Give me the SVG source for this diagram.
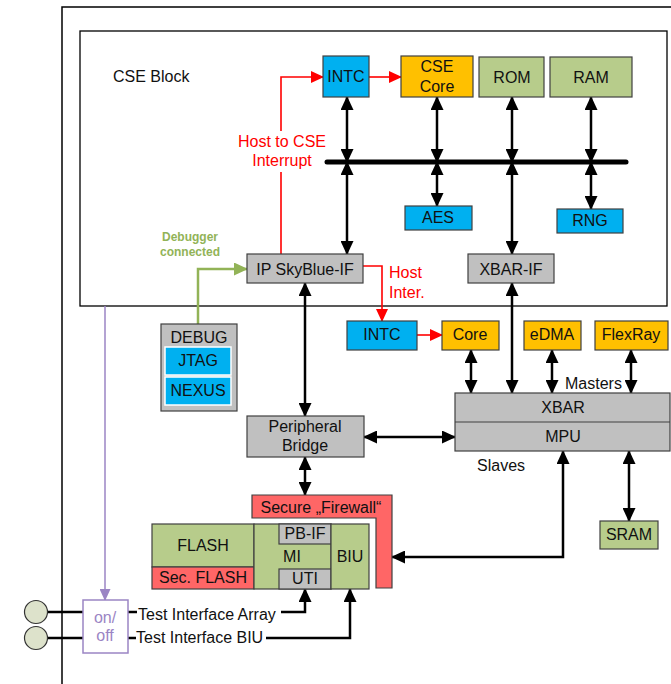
<svg xmlns="http://www.w3.org/2000/svg" width="671" height="684" viewBox="0 0 671 684">
<defs>
<style>
text{font-family:"Liberation Sans",Arial,sans-serif;font-size:16px;fill:#111}
.c{text-anchor:middle}
.box{stroke:#404040;stroke-width:1.2}
.blue{fill:#00B0F0}.org{fill:#FFC000}.grn{fill:#B7CC8B}.gry{fill:#C0C0C0}.red{fill:#FF6666}
.bl{fill:none;stroke:#000;stroke-width:2.5}
.dbl{marker-start:url(#ab);marker-end:url(#ab)}
.one{marker-end:url(#ab)}
.rl{fill:none;stroke:#FF0000;stroke-width:1.6;marker-end:url(#ar)}
.rt{fill:#FF0000}
</style>
<marker id="ab" markerUnits="userSpaceOnUse" viewBox="0 0 14 13" markerWidth="14" markerHeight="13" refX="13" refY="6.5" orient="auto-start-reverse"><path d="M0,0L14,6.5L0,13z" fill="#000"/></marker>
<marker id="ar" markerUnits="userSpaceOnUse" viewBox="0 0 13 12" markerWidth="13" markerHeight="12" refX="12" refY="6" orient="auto"><path d="M0,0L13,6L0,12z" fill="#FF0000"/></marker>
<marker id="ag" markerUnits="userSpaceOnUse" viewBox="0 0 14 13" markerWidth="14" markerHeight="13" refX="13" refY="6.5" orient="auto"><path d="M0,0L14,6.5L0,13z" fill="#92B357"/></marker>
<marker id="ap" markerUnits="userSpaceOnUse" viewBox="0 0 12 11" markerWidth="12" markerHeight="11" refX="11" refY="5.5" orient="auto"><path d="M0,0L12,5.5L0,11z" fill="#9B85C4"/></marker>
</defs>
<rect width="671" height="684" fill="#fff"/>
<path d="M62,684V7H671" fill="none" stroke="#000" stroke-width="1.5"/>
<g id="cse-block"><rect x="80" y="31" width="587" height="275" fill="#fff" stroke="#000" stroke-width="1.3"/><text x="113" y="82">CSE Block</text></g>

<g id="connectors">
<line x1="327" y1="162" x2="626" y2="162" stroke="#000" stroke-width="5" stroke-linecap="round"/>
<path class="bl dbl" d="M347,97V162"/>
<path class="bl dbl" d="M437,97V162"/>
<path class="bl dbl" d="M512,97V162"/>
<path class="bl dbl" d="M591,97V162"/>
<path class="bl dbl" d="M347,162V254"/>
<path class="bl dbl" d="M437,162V206"/>
<path class="bl dbl" d="M512,162V254"/>
<path class="bl dbl" d="M591,162V209"/>
<path class="bl dbl" d="M512,283V393"/>
<path class="bl dbl" d="M305,283V416"/>
<path class="bl dbl" d="M305,457V495"/>
<path class="bl dbl" d="M364,437H455"/>
<path class="bl dbl" d="M471,350V393"/>
<path class="bl dbl" d="M552,350V393"/>
<path class="bl dbl" d="M631,350V393"/>
<path class="bl dbl" d="M629,451V521"/>
<path class="bl dbl" d="M563,451V557H392"/>
<path class="rl" d="M281,254V172M281,131V77H323"/>
<path class="rl" d="M369,77H401"/>
<path class="rl" d="M363,266H382V321"/>
<path class="rl" d="M417,335H442"/>
<path d="M198,324V269H247" fill="none" stroke="#92B357" stroke-width="2.5" marker-end="url(#ag)"/>
<path d="M105,306V600" fill="none" stroke="#9B85C4" stroke-width="1.5" marker-end="url(#ap)"/>
<path class="bl" d="M48,612H83M48,638H83M128,612H137M128,638H136"/>
<path class="bl one" d="M281,612H305V589"/>
<path class="bl one" d="M266,638H350V589"/>
<text class="c rt" x="282" y="147">Host to CSE</text>
<text class="c rt" x="282" y="166">Interrupt</text>
<text class="rt" x="389" y="278">Host</text>
<text class="rt" x="389" y="298">Inter.</text>
<text class="c" x="190" y="241" style="font-size:12px;font-weight:bold;fill:#92B357">Debugger</text>
<text class="c" x="190" y="256" style="font-size:12px;font-weight:bold;fill:#92B357">connected</text>
<text x="565" y="389">Masters</text>
<text x="477" y="471">Slaves</text>
<text x="138" y="620">Test Interface Array</text>
<text x="136" y="643">Test Interface BIU</text>
</g>

<g id="intc-cse"><rect class="box blue" x="323" y="56" width="46" height="41"/><text class="c" x="346" y="82">INTC</text></g>
<g id="cse-core"><rect class="box org" x="401" y="56" width="72" height="41"/><text class="c" x="437" y="72">CSE</text><text class="c" x="437" y="92">Core</text></g>
<g id="rom"><rect class="box grn" x="479" y="57" width="65" height="40"/><text class="c" x="512" y="83">ROM</text></g>
<g id="ram"><rect class="box grn" x="550" y="57" width="82" height="40"/><text class="c" x="591" y="83">RAM</text></g>
<g id="aes"><rect class="box blue" x="405" y="206" width="67" height="24"/><text class="c" x="438" y="223">AES</text></g>
<g id="rng"><rect class="box blue" x="557" y="209" width="66" height="24"/><text class="c" x="590" y="226">RNG</text></g>
<g id="ip-skyblue"><rect class="box gry" x="247" y="254" width="116" height="29"/><text class="c" x="305" y="275">IP SkyBlue-IF</text></g>
<g id="xbar-if"><rect class="box gry" x="468" y="254" width="86" height="29"/><text class="c" x="511" y="275">XBAR-IF</text></g>

<g id="debug"><rect class="box gry" x="161" y="324" width="76" height="87"/><text class="c" x="199" y="343">DEBUG</text>
<rect class="blue" x="165" y="347" width="66" height="28" stroke="#fff" stroke-width="1.5"/><text class="c" x="198" y="366">JTAG</text>
<rect class="blue" x="165" y="377" width="66" height="28" stroke="#fff" stroke-width="1.5"/><text class="c" x="198" y="396">NEXUS</text></g>

<g id="intc"><rect class="box blue" x="347" y="321" width="70" height="29"/><text class="c" x="382" y="340">INTC</text></g>
<g id="core"><rect class="box org" x="442" y="321" width="57" height="29"/><text class="c" x="470" y="340">Core</text></g>
<g id="edma"><rect class="box org" x="524" y="321" width="57" height="29"/><text class="c" x="552" y="340">eDMA</text></g>
<g id="flexray"><rect class="box org" x="595" y="321" width="73" height="29"/><text class="c" x="631" y="340">FlexRay</text></g>
<g id="xbar-mpu"><rect class="box gry" x="455" y="393" width="215" height="58"/><line x1="455" y1="422" x2="670" y2="422" stroke="#404040" stroke-width="1.2"/><text class="c" x="563" y="413">XBAR</text><text class="c" x="563" y="442">MPU</text></g>
<g id="peripheral-bridge"><rect class="box gry" x="247" y="416" width="117" height="41"/><text class="c" x="305" y="432">Peripheral</text><text class="c" x="305" y="451">Bridge</text></g>
<g id="sram"><rect class="box grn" x="600" y="521" width="58" height="28"/><text class="c" x="629" y="540">SRAM</text></g>

<g id="firewall"><path class="box red" d="M252,495H392V588H376V518H252Z"/><text class="c" x="321" y="513">Secure „Firewall“</text></g>
<g id="flash"><rect class="box grn" x="152" y="524" width="102" height="43"/><text class="c" x="203" y="551">FLASH</text></g>
<g id="sec-flash"><rect class="box red" x="152" y="567" width="102" height="22"/><text class="c" x="203" y="583">Sec. FLASH</text></g>
<g id="mi"><rect class="box grn" x="254" y="524" width="77" height="65"/><text class="c" x="292" y="562">MI</text>
<rect class="box gry" x="279" y="524" width="52" height="20"/><text class="c" x="305" y="539">PB-IF</text>
<rect class="box gry" x="279" y="569" width="52" height="20"/><text class="c" x="305" y="584">UTI</text></g>
<g id="biu"><rect class="box grn" x="331" y="524" width="38" height="65"/><text class="c" x="350" y="562">BIU</text></g>

<g id="onoff"><rect x="83" y="600" width="45" height="53" fill="#fff" stroke="#9B85C4" stroke-width="1.5"/><text class="c" x="105" y="623" style="fill:#9B85C4">on/</text><text class="c" x="105" y="641" style="fill:#9B85C4">off</text></g>
<g id="pin1"><circle cx="36" cy="612" r="11.5" fill="#DDE2CB" stroke="#333" stroke-width="1.2"/></g>
<g id="pin2"><circle cx="36" cy="638" r="11.5" fill="#DDE2CB" stroke="#333" stroke-width="1.2"/></g>
</svg>
